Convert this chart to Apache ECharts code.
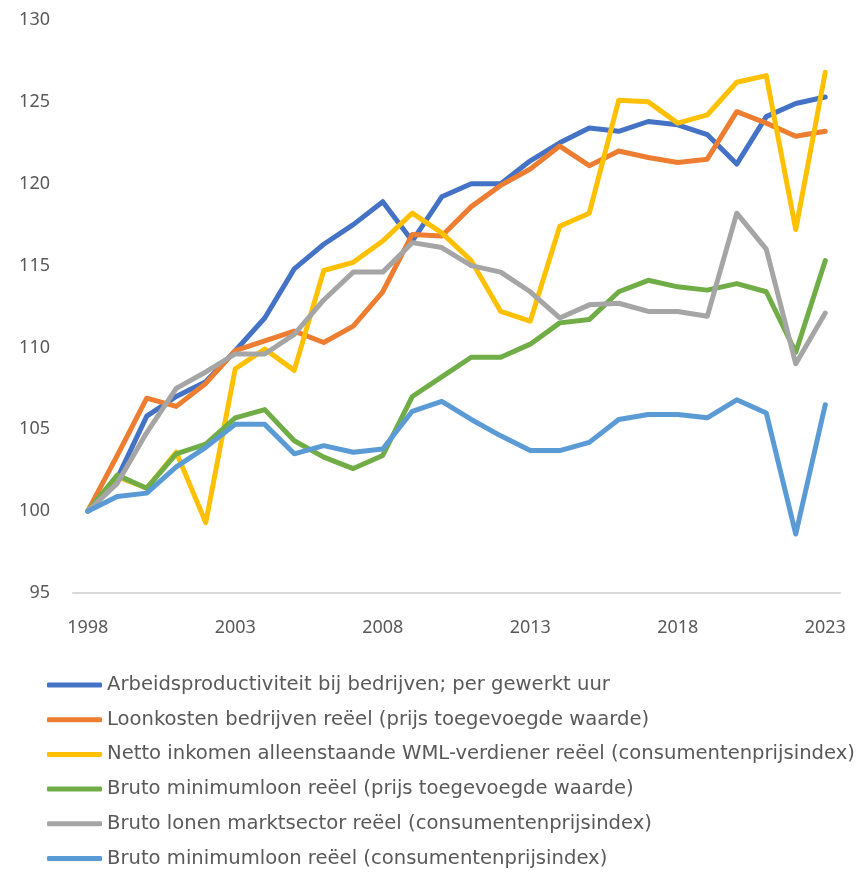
<!DOCTYPE html>
<html>
<head>
<meta charset="utf-8">
<script src="https://cdn.jsdelivr.net/npm/echarts@6/dist/echarts.min.js"></script>
<style>
  html, body { margin: 0; padding: 0; background: #fff; }
  #chart { width: 860px; height: 872px; }
</style>
</head>
<body>
<div id="chart"></div>
<script>
// jaren
var years = []
for (var y = 1998; y <= 2023; y++) years.push(String(y))

var names = [
  'Arbeidsproductiviteit bij bedrijven; per gewerkt uur',
  'Loonkosten bedrijven reëel (prijs toegevoegde waarde)',
  'Netto inkomen alleenstaande WML-verdiener reëel (consumentenprijsindex)',
  'Bruto minimumloon reëel (prijs toegevoegde waarde)',
  'Bruto lonen marktsector reëel (consumentenprijsindex)',
  'Bruto minimumloon reëel (consumentenprijsindex)'
]
var colors = ['#4472C4', '#ED7D31', '#FFC000', '#70AD47', '#A5A5A5', '#5B9BD5']

var arbeid = [100, 102.0, 105.8, 107.0, 107.9, 109.8, 111.8, 114.8, 116.3, 117.5, 118.9, 116.5, 119.2, 120.0, 120.0, 121.4, 122.5, 123.4, 123.2, 123.8, 123.6, 123.0, 121.2, 124.1, 124.9, 125.3]
var loonkosten = [100, 103.4, 106.9, 106.4, 107.8, 109.8, 110.4, 111.0, 110.3, 111.3, 113.4, 116.9, 116.8, 118.6, 119.9, 120.9, 122.3, 121.1, 122.0, 121.6, 121.3, 121.5, 124.4, 123.7, 122.9, 123.2]
var netto = [100, 102.1, 101.4, 103.6, 99.3, 108.7, 109.9, 108.6, 114.7, 115.2, 116.5, 118.2, 117.0, 115.3, 112.2, 111.6, 117.4, 118.2, 125.1, 125.0, 123.7, 124.2, 126.2, 126.6, 117.2, 126.8]
var wmlPrijs = [100, 102.2, 101.4, 103.5, 104.1, 105.7, 106.2, 104.3, 103.3, 102.6, 103.4, 107.0, 108.2, 109.4, 109.4, 110.2, 111.5, 111.7, 113.4, 114.1, 113.7, 113.5, 113.9, 113.4, 109.7, 115.3]
var lonenMarkt = [100, 101.7, 104.8, 107.5, 108.5, 109.6, 109.6, 110.8, 112.9, 114.6, 114.6, 116.4, 116.1, 115.0, 114.6, 113.4, 111.8, 112.6, 112.7, 112.2, 112.2, 111.9, 118.2, 116.0, 109.0, 112.1]
var wmlCpi = [100, 100.9, 101.1, 102.7, 103.9, 105.3, 105.3, 103.5, 104.0, 103.6, 103.8, 106.1, 106.7, 105.6, 104.6, 103.7, 103.7, 104.2, 105.6, 105.9, 105.9, 105.7, 106.8, 106.0, 98.6, 106.5]

var allData = [arbeid, loonkosten, netto, wmlPrijs, lonenMarkt, wmlCpi]

var textColor = '#595959'
var font = 'Noto Sans'

var chart = echarts.init(document.getElementById('chart'))

var series = allData.map(function(d, i) {
  return {
    name: names[i],
    type: 'line',
    data: d,
    showSymbol: false,
    symbol: 'none',
    color: colors[i],
    lineStyle: { width: 5, cap: 'round', join: 'round' }
  }
})

var option = {
  animation: false,
  grid: {
    left: 73,
    right: 20,
    top: 20,
    bottom: 279
  },
  legend: {
    orient: 'vertical',
    left: 47,
    top: 675,
    padding: 0,
    itemWidth: 55,
    itemHeight: 5,
    itemGap: 14.7,
    icon: 'roundRect',
    textStyle: {
      color: textColor,
      fontFamily: 'DejaVu Sans',
      fontSize: 19.6,
      lineHeight: 20
    },
    data: names
  },
  xAxis: {
    type: 'category',
    data: years,
    boundaryGap: true,
    axisLine: { lineStyle: { color: '#D9D9D9', width: 2 } },
    axisTick: { show: false },
    axisLabel: {
      interval: 4,
      color: textColor,
      fontFamily: font,
      fontSize: 18,
      margin: 26
    }
  },
  yAxis: {
    type: 'value',
    min: 95,
    max: 130,
    interval: 5,
    axisLine: { show: false },
    axisTick: { show: false },
    splitLine: { show: false },
    axisLabel: {
      color: textColor,
      fontFamily: font,
      fontSize: 18,
      margin: 23
    }
  },
  series: series
}

chart.setOption(option)
</script>
</body>
</html>
